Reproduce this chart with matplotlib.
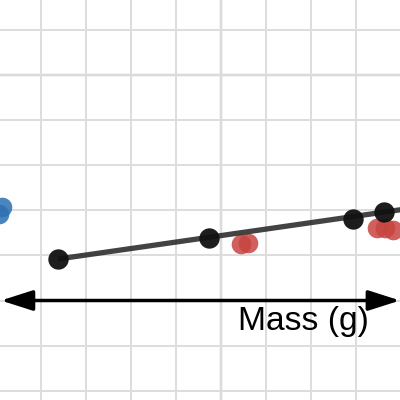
import matplotlib
matplotlib.use("Agg")
import matplotlib.pyplot as plt
import numpy as np

# data values (1 unit = 1 grid square)
black_x = [-3.61, -0.27, 2.92, 3.61]
black_y = [-4.08, -3.61, -3.19, -3.04]

fit_x = [-3.61, 4.2]
fit_y = [-4.08, -2.956]

red_x = [0.44, 0.60, 3.46, 3.64, 3.81]
red_y = [-3.75, -3.72, -3.39, -3.39, -3.44]

blue_x = [-4.86, -4.92]
blue_y = [-2.93, -3.08]

axis_y = -5.0
axis_x_range = (-4.88, 3.97)
axis_label = "Mass (g)"

XLIM = (-4.90, 3.97)
YLIM = (-7.206, 1.663)

fig = plt.figure(figsize=(4, 4), dpi=100)
ax = fig.add_axes([0, 0, 1, 1])
ax.set_xlim(*XLIM)
ax.set_ylim(*YLIM)

# graph-paper grid
ax.set_xticks(np.arange(-4, 4))
ax.set_yticks(np.arange(-7, 2))
ax.grid(True, color="#dddddd", linewidth=1.4, zorder=0)
ax.tick_params(length=0, labelbottom=False, labelleft=False)
for s in ax.spines.values():
    s.set_visible(False)
ax.axhline(0, color="#999999", linewidth=1.6, zorder=1)
ax.axvline(0, color="#999999", linewidth=1.6, zorder=1)

ax.plot(fit_x, fit_y, color="#222222", linewidth=3.8, alpha=0.85,
        solid_capstyle="butt", zorder=3)
ax.scatter(red_x, red_y, s=200, color="#c74440", alpha=0.85,
           linewidths=0, zorder=2)
ax.scatter(blue_x, blue_y, s=200, color="#2d70b3", alpha=0.85,
           linewidths=0, zorder=2)
ax.scatter(black_x, black_y, s=215, color="#111111", alpha=0.95,
           linewidths=0, zorder=4)

# double-headed axis arrow
ax.annotate("", xy=(axis_x_range[1], axis_y), xytext=(axis_x_range[0], axis_y),
            arrowprops=dict(arrowstyle="<|-|>,head_length=0.97,head_width=0.31",
                            mutation_scale=20, color="black", linewidth=2.5,
                            shrinkA=0, shrinkB=0), zorder=5)
ax.text(1.82, -5.65, axis_label, ha="center", va="baseline",
        fontsize=24.2, family="Liberation Sans", color="black", zorder=5)

fig.savefig("out.png", dpi=100)
